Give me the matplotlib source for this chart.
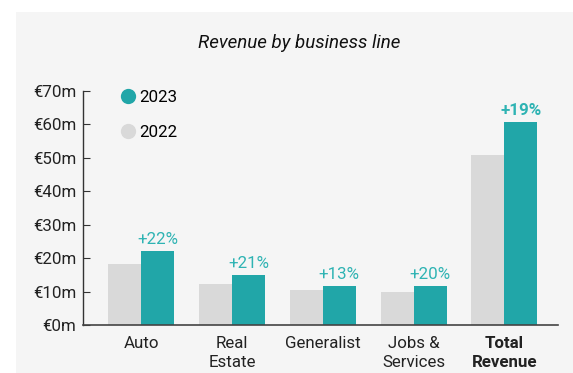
import matplotlib.pyplot as plt
from matplotlib.lines import Line2D
from matplotlib.patches import Rectangle
import numpy as np

plt.rcParams['font.family'] = ['Roboto', 'DejaVu Sans']

categories = ['Auto', 'Real\nEstate', 'Generalist', 'Jobs &\nServices', 'Total\nRevenue']
rev_2022 = [18.2, 12.4, 10.4, 9.8, 50.8]
rev_2023 = [22.2, 15.0, 11.7, 11.7, 60.6]
growth = ['+22%', '+21%', '+13%', '+20%', '+19%']
y_ticks = [0, 10, 20, 30, 40, 50, 60, 70]
y_tick_labels = ['€%dm' % v for v in y_ticks]

teal = '#21a6a8'
light_teal = '#2eb3b3'
grey = '#d9d9d9'
card = '#f5f5f5'
fs = 12.2

W, H = 573, 373
fig = plt.figure(figsize=(W / 100, H / 100), dpi=100)
fig.patch.set_facecolor('white')
fig.patches.append(Rectangle((16 / W, 0), 1 - 16 / W, 1 - 12 / H,
                             transform=fig.transFigure, facecolor=card,
                             edgecolor='none', zorder=-10))

ax = fig.add_axes([83 / W, 48 / H, (558 - 83) / W, (325 - 91) / H])
ax.set_facecolor(card)

x = np.arange(len(categories))
w = 0.363
ax.bar(x - w / 2, rev_2022, w, color=grey, label='2022')
bars = ax.bar(x + w / 2, rev_2023, w, color=teal, label='2023')

for i, (b, g) in enumerate(zip(bars, growth)):
    ax.annotate(g, (b.get_x() + b.get_width() / 2, b.get_height()),
                xytext=(0, 3), textcoords='offset points',
                ha='center', va='bottom', color=light_teal, fontsize=fs,
                fontweight='bold' if i == len(growth) - 1 else 'normal')

ax.set_xlim(-0.64, 4.59)
ax.set_ylim(0, 70)
ax.set_yticks(y_ticks)
ax.set_yticklabels(y_tick_labels, fontsize=fs, color='#222222')
ax.set_xticks(x)
ax.set_xticklabels(categories, fontsize=fs, color='#222222', linespacing=1.3)
ax.get_xticklabels()[-1].set_fontweight('bold')
ax.tick_params(axis='x', length=0, pad=8)
ax.tick_params(axis='y', direction='in', length=5, width=0.8, color='#333333', pad=5)

for s in ['top', 'right']:
    ax.spines[s].set_visible(False)
ax.spines['left'].set_color('#333333')
ax.spines['bottom'].set_color('#444444')
ax.spines['left'].set_linewidth(1)
ax.spines['bottom'].set_linewidth(1.2)

handles = [Line2D([], [], marker='o', linestyle='none', markersize=11,
                  markerfacecolor=teal, markeredgecolor='none', label='2023'),
           Line2D([], [], marker='o', linestyle='none', markersize=11,
                  markerfacecolor=grey, markeredgecolor='none', label='2022')]
ax.legend(handles=handles, loc='upper left', bbox_to_anchor=(0.048, 1.07),
          frameon=False, fontsize=fs, handlelength=0.8, handletextpad=0.3,
          labelspacing=1.2)

fig.text(299 / W, 1 - 43 / H, 'Revenue by business line', ha='center',
         va='center', fontsize=13.5, style='italic', color='#111111')

fig.savefig('out.png', dpi=100, facecolor=fig.get_facecolor())
